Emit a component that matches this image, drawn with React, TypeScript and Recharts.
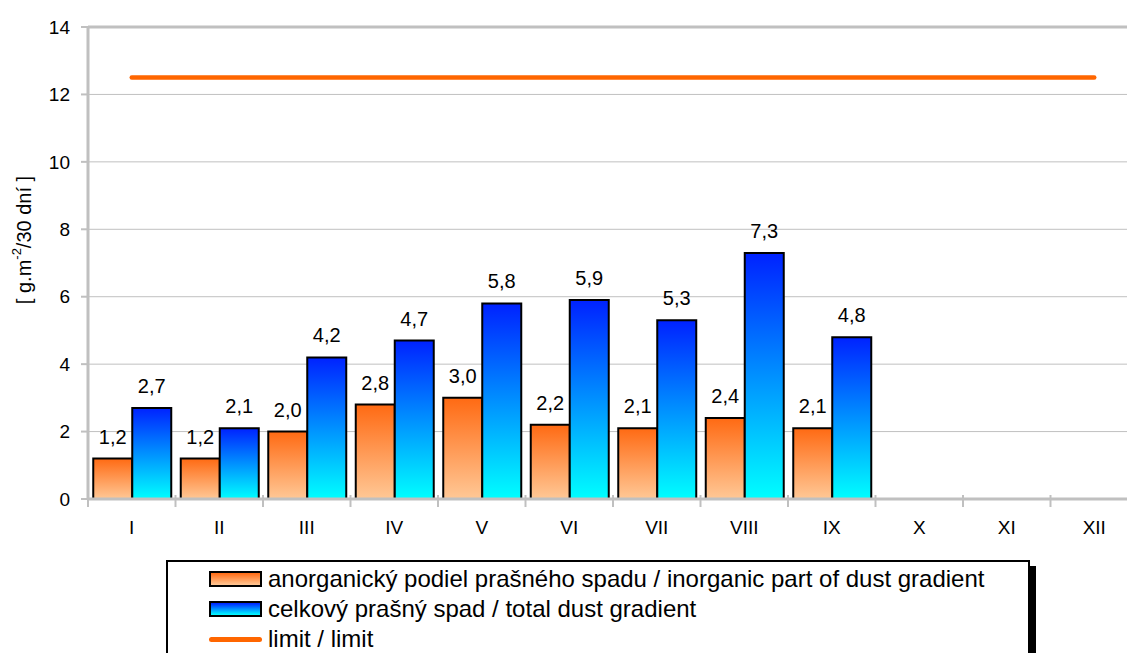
import React from 'react';
import {
  ComposedChart,
  Bar,
  Line,
  XAxis,
  YAxis,
  CartesianGrid,
  ReferenceLine,
  LabelList,
  Label,
} from 'recharts';

const months = ['I', 'II', 'III', 'IV', 'V', 'VI', 'VII', 'VIII', 'IX', 'X', 'XI', 'XII'];
const inorganic = [1.2, 1.2, 2.0, 2.8, 3.0, 2.2, 2.1, 2.4, 2.1, null, null, null];
const totalDust = [2.7, 2.1, 4.2, 4.7, 5.8, 5.9, 5.3, 7.3, 4.8, null, null, null];
const limit = [12.5, 12.5, 12.5, 12.5, 12.5, 12.5, 12.5, 12.5, 12.5, 12.5, 12.5, 12.5];
const yTicks = [0, 2, 4, 6, 8, 10, 12, 14];

const legendItems = [
  { key: 'inorganic', label: 'anorganický podiel prašného spadu / inorganic part of dust gradient' },
  { key: 'total', label: 'celkový prašný spad / total dust gradient' },
  { key: 'limit', label: 'limit / limit' },
];

const data = months.map((m, i) => ({
  month: m,
  inorganic: inorganic[i],
  total: totalDust[i],
  limit: limit[i],
}));

const FONT = '"Liberation Sans", Arial, sans-serif';
const AXIS_GRAY = '#c0c0c0';
const PLOT_LEFT = 88;
const PLOT_WIDTH = 1050;
const BAND = PLOT_WIDTH / months.length;

const fmt = (v: any) => (v == null ? '' : Number(v).toFixed(1).replace('.', ','));

const MonthTick = ({ x, y, payload }: any) => (
  <g>
    <line x1={x - BAND / 2} x2={x - BAND / 2} y1={y - 4} y2={y + 8} stroke={AXIS_GRAY} strokeWidth={2} />
    <text x={x} y={y + 35} textAnchor="middle" fontSize={19} fontFamily={FONT} fill="#000">
      {payload.value}
    </text>
  </g>
);

const YLabel = () => (
  <text
    x={24}
    y={240}
    transform="rotate(-90, 24, 240)"
    textAnchor="middle"
    dominantBaseline="central"
    fontSize={20}
    fontFamily={FONT}
    fill="#000"
  >
    [ g.m<tspan dy={-8} fontSize={13}>-2</tspan>
    <tspan dy={8}>/30 dní ]</tspan>
  </text>
);

function LegendBox() {
  return (
    <div
      style={{
        position: 'absolute',
        left: 166,
        top: 560,
        width: 860,
        height: 110,
        border: '2px solid #000',
        background: '#fff',
        boxShadow: '6px 6px 0 #000',
        fontFamily: FONT,
        fontSize: 24,
        color: '#000',
      }}
    >
      {legendItems.map((item, i) => (
        <div
          key={item.key}
          style={{ position: 'absolute', left: 41, top: 2 + i * 30, height: 30, display: 'flex', alignItems: 'center', whiteSpace: 'nowrap' }}
        >
          {item.key === 'limit' ? (
            <div style={{ width: 53, height: 5, borderRadius: 3, background: '#ff6600', marginRight: 6 }} />
          ) : (
            <div
              style={{
                width: 49,
                height: 12,
                border: '2px solid #000',
                marginRight: 6,
                background:
                  item.key === 'inorganic'
                    ? 'linear-gradient(#ff6a13, #ffc896)'
                    : 'linear-gradient(#0022ff, #00ffff)',
              }}
            />
          )}
          <span>{item.label}</span>
        </div>
      ))}
    </div>
  );
}

export default function App() {
  return (
    <div style={{ position: 'absolute', left: 0, top: 0, width: 1127, height: 653, overflow: 'hidden', background: '#fff' }}>
      <ComposedChart
        width={PLOT_LEFT + PLOT_WIDTH}
        height={653}
        data={data}
        margin={{ top: 27, right: 0, left: 0, bottom: 114 }}
        barCategoryGap="6%"
        barGap={0}
      >
        <defs>
          <linearGradient id="gradOrange" x1="0" y1="0" x2="0" y2="1">
            <stop offset="0%" stopColor="#ff6a13" />
            <stop offset="100%" stopColor="#ffc896" />
          </linearGradient>
          <linearGradient id="gradBlue" x1="0" y1="0" x2="0" y2="1">
            <stop offset="0%" stopColor="#0022ff" />
            <stop offset="100%" stopColor="#00ffff" />
          </linearGradient>
        </defs>
        <CartesianGrid vertical={false} stroke={AXIS_GRAY} strokeWidth={1} />
        <XAxis
          dataKey="month"
          height={40}
          axisLine={{ stroke: AXIS_GRAY, strokeWidth: 3 }}
          tickLine={false}
          tickSize={0}
          tickMargin={0}
          tick={<MonthTick />}
          interval={0}
        />
        <YAxis
          width={PLOT_LEFT}
          domain={[0, 14]}
          ticks={yTicks}
          interval={0}
          axisLine={{ stroke: AXIS_GRAY, strokeWidth: 3 }}
          tickLine={{ stroke: AXIS_GRAY, strokeWidth: 2 }}
          tickSize={7}
          tickMargin={11}
          tick={{ fontSize: 19, fill: '#000', fontFamily: FONT }}
        >
          <Label content={<YLabel />} />
        </YAxis>
        <ReferenceLine y={14} stroke={AXIS_GRAY} strokeWidth={3} />
        <Bar dataKey="inorganic" fill="url(#gradOrange)" stroke="#000" strokeWidth={2} isAnimationActive={false}>
          <LabelList dataKey="inorganic" position="top" offset={15} formatter={fmt} fill="#000" fontSize={20} fontFamily={FONT} />
        </Bar>
        <Bar dataKey="total" fill="url(#gradBlue)" stroke="#000" strokeWidth={2} isAnimationActive={false}>
          <LabelList dataKey="total" position="top" offset={15} formatter={fmt} fill="#000" fontSize={20} fontFamily={FONT} />
        </Bar>
        <Line
          dataKey="limit"
          type="linear"
          stroke="#ff6600"
          strokeWidth={4.5}
          strokeLinecap="round"
          dot={false}
          activeDot={false}
          isAnimationActive={false}
        />
      </ComposedChart>
      <LegendBox />
    </div>
  );
}
